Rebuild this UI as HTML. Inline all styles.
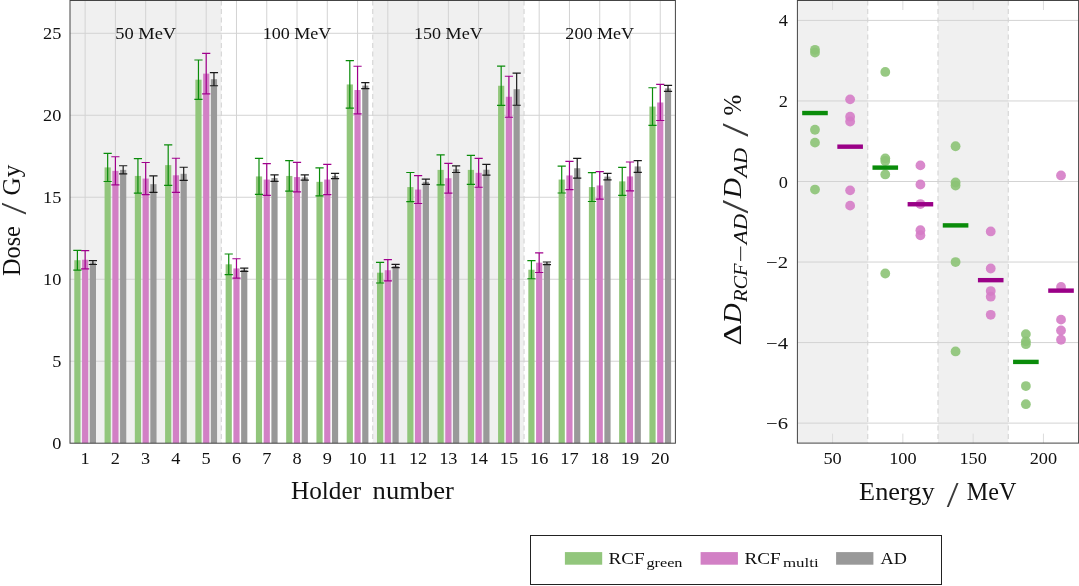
<!DOCTYPE html>
<html lang="en"><head><meta charset="utf-8"><title>Dose comparison</title>
<style>html,body{margin:0;padding:0;background:#fff}body{width:1079px;height:586px;overflow:hidden}svg{display:block}svg text{font-family:"Liberation Serif",serif}</style></head>
<body>
<svg width="1079" height="586" viewBox="0 0 1079 586"  fill="#111">
<rect width="1079" height="586" fill="#fff"/>
<rect x="70.00" y="0.5" width="151.35" height="442.70" fill="#f0f0f0"/>
<rect x="372.70" y="0.5" width="151.35" height="442.70" fill="#f0f0f0"/>
<line x1="221.35" x2="221.35" y1="0.5" y2="443.2" stroke="#d8d8d8" stroke-width="1.2" stroke-dasharray="5 3.5"/>
<line x1="372.70" x2="372.70" y1="0.5" y2="443.2" stroke="#d8d8d8" stroke-width="1.2" stroke-dasharray="5 3.5"/>
<line x1="524.05" x2="524.05" y1="0.5" y2="443.2" stroke="#d8d8d8" stroke-width="1.2" stroke-dasharray="5 3.5"/>
<line x1="85.14" x2="85.14" y1="0.5" y2="443.2" stroke="#d3d3d3" stroke-width="1"/>
<line x1="115.41" x2="115.41" y1="0.5" y2="443.2" stroke="#d3d3d3" stroke-width="1"/>
<line x1="145.68" x2="145.68" y1="0.5" y2="443.2" stroke="#d3d3d3" stroke-width="1"/>
<line x1="175.94" x2="175.94" y1="0.5" y2="443.2" stroke="#d3d3d3" stroke-width="1"/>
<line x1="206.21" x2="206.21" y1="0.5" y2="443.2" stroke="#d3d3d3" stroke-width="1"/>
<line x1="236.48" x2="236.48" y1="0.5" y2="443.2" stroke="#d3d3d3" stroke-width="1"/>
<line x1="266.75" x2="266.75" y1="0.5" y2="443.2" stroke="#d3d3d3" stroke-width="1"/>
<line x1="297.02" x2="297.02" y1="0.5" y2="443.2" stroke="#d3d3d3" stroke-width="1"/>
<line x1="327.29" x2="327.29" y1="0.5" y2="443.2" stroke="#d3d3d3" stroke-width="1"/>
<line x1="357.56" x2="357.56" y1="0.5" y2="443.2" stroke="#d3d3d3" stroke-width="1"/>
<line x1="387.83" x2="387.83" y1="0.5" y2="443.2" stroke="#d3d3d3" stroke-width="1"/>
<line x1="418.10" x2="418.10" y1="0.5" y2="443.2" stroke="#d3d3d3" stroke-width="1"/>
<line x1="448.38" x2="448.38" y1="0.5" y2="443.2" stroke="#d3d3d3" stroke-width="1"/>
<line x1="478.64" x2="478.64" y1="0.5" y2="443.2" stroke="#d3d3d3" stroke-width="1"/>
<line x1="508.91" x2="508.91" y1="0.5" y2="443.2" stroke="#d3d3d3" stroke-width="1"/>
<line x1="539.18" x2="539.18" y1="0.5" y2="443.2" stroke="#d3d3d3" stroke-width="1"/>
<line x1="569.46" x2="569.46" y1="0.5" y2="443.2" stroke="#d3d3d3" stroke-width="1"/>
<line x1="599.73" x2="599.73" y1="0.5" y2="443.2" stroke="#d3d3d3" stroke-width="1"/>
<line x1="630.00" x2="630.00" y1="0.5" y2="443.2" stroke="#d3d3d3" stroke-width="1"/>
<line x1="660.26" x2="660.26" y1="0.5" y2="443.2" stroke="#d3d3d3" stroke-width="1"/>
<line x1="70.0" x2="675.4" y1="361.22" y2="361.22" stroke="#d3d3d3" stroke-width="1"/>
<line x1="70.0" x2="675.4" y1="279.24" y2="279.24" stroke="#d3d3d3" stroke-width="1"/>
<line x1="70.0" x2="675.4" y1="197.26" y2="197.26" stroke="#d3d3d3" stroke-width="1"/>
<line x1="70.0" x2="675.4" y1="115.27" y2="115.27" stroke="#d3d3d3" stroke-width="1"/>
<line x1="70.0" x2="675.4" y1="33.29" y2="33.29" stroke="#d3d3d3" stroke-width="1"/>
<rect x="74.29" y="260.22" width="6.2" height="182.98" fill="#92c67c"/>
<rect x="82.04" y="259.73" width="6.2" height="183.47" fill="#d280c5"/>
<rect x="89.79" y="262.51" width="6.2" height="180.69" fill="#999999"/>
<rect x="104.56" y="167.41" width="6.2" height="275.79" fill="#92c67c"/>
<rect x="112.31" y="170.86" width="6.2" height="272.34" fill="#d280c5"/>
<rect x="120.06" y="169.87" width="6.2" height="273.33" fill="#999999"/>
<rect x="134.83" y="175.94" width="6.2" height="267.26" fill="#92c67c"/>
<rect x="142.58" y="178.56" width="6.2" height="264.64" fill="#d280c5"/>
<rect x="150.33" y="184.14" width="6.2" height="259.06" fill="#999999"/>
<rect x="165.09" y="165.12" width="6.2" height="278.08" fill="#92c67c"/>
<rect x="172.84" y="175.28" width="6.2" height="267.92" fill="#d280c5"/>
<rect x="180.59" y="173.81" width="6.2" height="269.39" fill="#999999"/>
<rect x="195.36" y="79.69" width="6.2" height="363.51" fill="#92c67c"/>
<rect x="203.11" y="73.63" width="6.2" height="369.57" fill="#d280c5"/>
<rect x="210.86" y="79.20" width="6.2" height="364.00" fill="#999999"/>
<rect x="225.63" y="264.32" width="6.2" height="178.88" fill="#92c67c"/>
<rect x="233.38" y="268.42" width="6.2" height="174.78" fill="#d280c5"/>
<rect x="241.13" y="269.73" width="6.2" height="173.47" fill="#999999"/>
<rect x="255.91" y="176.43" width="6.2" height="266.77" fill="#92c67c"/>
<rect x="263.65" y="179.55" width="6.2" height="263.65" fill="#d280c5"/>
<rect x="271.40" y="178.07" width="6.2" height="265.13" fill="#999999"/>
<rect x="286.17" y="175.94" width="6.2" height="267.26" fill="#92c67c"/>
<rect x="293.92" y="177.09" width="6.2" height="266.11" fill="#d280c5"/>
<rect x="301.67" y="177.42" width="6.2" height="265.78" fill="#999999"/>
<rect x="316.44" y="181.84" width="6.2" height="261.36" fill="#92c67c"/>
<rect x="324.19" y="179.55" width="6.2" height="263.65" fill="#d280c5"/>
<rect x="331.94" y="175.94" width="6.2" height="267.26" fill="#999999"/>
<rect x="346.71" y="84.45" width="6.2" height="358.75" fill="#92c67c"/>
<rect x="354.46" y="90.02" width="6.2" height="353.18" fill="#d280c5"/>
<rect x="362.21" y="85.60" width="6.2" height="357.60" fill="#999999"/>
<rect x="376.98" y="272.68" width="6.2" height="170.52" fill="#92c67c"/>
<rect x="384.73" y="270.22" width="6.2" height="172.98" fill="#d280c5"/>
<rect x="392.48" y="265.96" width="6.2" height="177.24" fill="#999999"/>
<rect x="407.25" y="187.09" width="6.2" height="256.11" fill="#92c67c"/>
<rect x="415.00" y="189.55" width="6.2" height="253.65" fill="#d280c5"/>
<rect x="422.75" y="181.84" width="6.2" height="261.36" fill="#999999"/>
<rect x="437.52" y="169.87" width="6.2" height="273.33" fill="#92c67c"/>
<rect x="445.27" y="178.24" width="6.2" height="264.96" fill="#d280c5"/>
<rect x="453.02" y="169.22" width="6.2" height="273.98" fill="#999999"/>
<rect x="467.79" y="169.87" width="6.2" height="273.33" fill="#92c67c"/>
<rect x="475.54" y="172.83" width="6.2" height="270.37" fill="#d280c5"/>
<rect x="483.29" y="169.71" width="6.2" height="273.49" fill="#999999"/>
<rect x="498.06" y="85.76" width="6.2" height="357.44" fill="#92c67c"/>
<rect x="505.81" y="96.75" width="6.2" height="346.45" fill="#d280c5"/>
<rect x="513.56" y="89.20" width="6.2" height="354.00" fill="#999999"/>
<rect x="528.33" y="269.73" width="6.2" height="173.47" fill="#92c67c"/>
<rect x="536.08" y="262.68" width="6.2" height="180.52" fill="#d280c5"/>
<rect x="543.83" y="263.33" width="6.2" height="179.87" fill="#999999"/>
<rect x="558.61" y="179.55" width="6.2" height="263.65" fill="#92c67c"/>
<rect x="566.36" y="175.45" width="6.2" height="267.75" fill="#d280c5"/>
<rect x="574.11" y="168.23" width="6.2" height="274.97" fill="#999999"/>
<rect x="588.88" y="187.09" width="6.2" height="256.11" fill="#92c67c"/>
<rect x="596.62" y="185.45" width="6.2" height="257.75" fill="#d280c5"/>
<rect x="604.38" y="176.60" width="6.2" height="266.60" fill="#999999"/>
<rect x="619.14" y="181.35" width="6.2" height="261.85" fill="#92c67c"/>
<rect x="626.89" y="176.43" width="6.2" height="266.77" fill="#d280c5"/>
<rect x="634.64" y="166.43" width="6.2" height="276.77" fill="#999999"/>
<rect x="649.41" y="106.58" width="6.2" height="336.62" fill="#92c67c"/>
<rect x="657.16" y="102.48" width="6.2" height="340.72" fill="#d280c5"/>
<rect x="664.91" y="88.38" width="6.2" height="354.82" fill="#999999"/>
<path d="M77.39 250.38V270.06M73.29 250.38H81.48M73.29 270.06H81.48" stroke="#0a8c0a" stroke-width="1.2" fill="none"/>
<path d="M85.14 250.54V268.91M81.04 250.54H89.23M81.04 268.91H89.23" stroke="#a0008c" stroke-width="1.2" fill="none"/>
<path d="M92.89 260.55V264.48M88.79 260.55H96.98M88.79 264.48H96.98" stroke="#1a1a1a" stroke-width="1.2" fill="none"/>
<path d="M107.66 153.31V181.52M103.56 153.31H111.75M103.56 181.52H111.75" stroke="#0a8c0a" stroke-width="1.2" fill="none"/>
<path d="M115.41 156.76V184.96M111.31 156.76H119.50M111.31 184.96H119.50" stroke="#a0008c" stroke-width="1.2" fill="none"/>
<path d="M123.16 165.77V173.97M119.06 165.77H127.25M119.06 173.97H127.25" stroke="#1a1a1a" stroke-width="1.2" fill="none"/>
<path d="M137.93 158.72V193.16M133.83 158.72H142.03M133.83 193.16H142.03" stroke="#0a8c0a" stroke-width="1.2" fill="none"/>
<path d="M145.68 162.50V194.63M141.58 162.50H149.78M141.58 194.63H149.78" stroke="#a0008c" stroke-width="1.2" fill="none"/>
<path d="M153.43 175.94V192.34M149.33 175.94H157.53M149.33 192.34H157.53" stroke="#1a1a1a" stroke-width="1.2" fill="none"/>
<path d="M168.19 144.95V185.29M164.09 144.95H172.29M164.09 185.29H172.29" stroke="#0a8c0a" stroke-width="1.2" fill="none"/>
<path d="M175.94 158.23V192.34M171.84 158.23H180.04M171.84 192.34H180.04" stroke="#a0008c" stroke-width="1.2" fill="none"/>
<path d="M183.69 167.25V180.37M179.59 167.25H187.79M179.59 180.37H187.79" stroke="#1a1a1a" stroke-width="1.2" fill="none"/>
<path d="M198.46 60.02V99.37M194.36 60.02H202.56M194.36 99.37H202.56" stroke="#0a8c0a" stroke-width="1.2" fill="none"/>
<path d="M206.21 53.46V93.79M202.11 53.46H210.31M202.11 93.79H210.31" stroke="#a0008c" stroke-width="1.2" fill="none"/>
<path d="M213.96 72.64V85.76M209.86 72.64H218.06M209.86 85.76H218.06" stroke="#1a1a1a" stroke-width="1.2" fill="none"/>
<path d="M228.73 253.99V274.65M224.63 253.99H232.83M224.63 274.65H232.83" stroke="#0a8c0a" stroke-width="1.2" fill="none"/>
<path d="M236.48 258.74V278.09M232.38 258.74H240.58M232.38 278.09H240.58" stroke="#a0008c" stroke-width="1.2" fill="none"/>
<path d="M244.23 268.09V271.37M240.13 268.09H248.33M240.13 271.37H248.33" stroke="#1a1a1a" stroke-width="1.2" fill="none"/>
<path d="M259.00 158.40V194.47M254.91 158.40H263.11M254.91 194.47H263.11" stroke="#0a8c0a" stroke-width="1.2" fill="none"/>
<path d="M266.75 163.64V195.45M262.65 163.64H270.86M262.65 195.45H270.86" stroke="#a0008c" stroke-width="1.2" fill="none"/>
<path d="M274.50 174.79V181.35M270.40 174.79H278.61M270.40 181.35H278.61" stroke="#1a1a1a" stroke-width="1.2" fill="none"/>
<path d="M289.27 160.69V191.19M285.17 160.69H293.38M285.17 191.19H293.38" stroke="#0a8c0a" stroke-width="1.2" fill="none"/>
<path d="M297.02 162.33V191.84M292.92 162.33H301.12M292.92 191.84H301.12" stroke="#a0008c" stroke-width="1.2" fill="none"/>
<path d="M304.77 174.79V180.04M300.67 174.79H308.88M300.67 180.04H308.88" stroke="#1a1a1a" stroke-width="1.2" fill="none"/>
<path d="M319.54 167.91V195.78M315.44 167.91H323.64M315.44 195.78H323.64" stroke="#0a8c0a" stroke-width="1.2" fill="none"/>
<path d="M327.29 164.46V194.63M323.19 164.46H331.39M323.19 194.63H331.39" stroke="#a0008c" stroke-width="1.2" fill="none"/>
<path d="M335.04 173.32V178.56M330.94 173.32H339.14M330.94 178.56H339.14" stroke="#1a1a1a" stroke-width="1.2" fill="none"/>
<path d="M349.81 60.67V108.22M345.71 60.67H353.92M345.71 108.22H353.92" stroke="#0a8c0a" stroke-width="1.2" fill="none"/>
<path d="M357.56 66.25V113.80M353.46 66.25H361.67M353.46 113.80H361.67" stroke="#a0008c" stroke-width="1.2" fill="none"/>
<path d="M365.31 82.65V88.55M361.21 82.65H369.42M361.21 88.55H369.42" stroke="#1a1a1a" stroke-width="1.2" fill="none"/>
<path d="M380.08 262.35V283.01M375.98 262.35H384.19M375.98 283.01H384.19" stroke="#0a8c0a" stroke-width="1.2" fill="none"/>
<path d="M387.83 259.56V280.88M383.73 259.56H391.94M383.73 280.88H391.94" stroke="#a0008c" stroke-width="1.2" fill="none"/>
<path d="M395.58 264.32V267.60M391.48 264.32H399.69M391.48 267.60H399.69" stroke="#1a1a1a" stroke-width="1.2" fill="none"/>
<path d="M410.35 172.50V201.68M406.25 172.50H414.45M406.25 201.68H414.45" stroke="#0a8c0a" stroke-width="1.2" fill="none"/>
<path d="M418.10 175.61V203.49M414.00 175.61H422.20M414.00 203.49H422.20" stroke="#a0008c" stroke-width="1.2" fill="none"/>
<path d="M425.85 179.22V184.47M421.75 179.22H429.95M421.75 184.47H429.95" stroke="#1a1a1a" stroke-width="1.2" fill="none"/>
<path d="M440.62 154.95V184.79M436.52 154.95H444.73M436.52 184.79H444.73" stroke="#0a8c0a" stroke-width="1.2" fill="none"/>
<path d="M448.38 163.32V193.16M444.27 163.32H452.48M444.27 193.16H452.48" stroke="#a0008c" stroke-width="1.2" fill="none"/>
<path d="M456.12 165.94V172.50M452.02 165.94H460.23M452.02 172.50H460.23" stroke="#1a1a1a" stroke-width="1.2" fill="none"/>
<path d="M470.89 155.28V184.47M466.79 155.28H475.00M466.79 184.47H475.00" stroke="#0a8c0a" stroke-width="1.2" fill="none"/>
<path d="M478.64 158.40V187.25M474.54 158.40H482.75M474.54 187.25H482.75" stroke="#a0008c" stroke-width="1.2" fill="none"/>
<path d="M486.39 164.30V175.12M482.29 164.30H490.50M482.29 175.12H490.50" stroke="#1a1a1a" stroke-width="1.2" fill="none"/>
<path d="M501.16 66.09V105.44M497.06 66.09H505.26M497.06 105.44H505.26" stroke="#0a8c0a" stroke-width="1.2" fill="none"/>
<path d="M508.91 76.25V117.24M504.81 76.25H513.01M504.81 117.24H513.01" stroke="#a0008c" stroke-width="1.2" fill="none"/>
<path d="M516.66 73.14V105.27M512.56 73.14H520.76M512.56 105.27H520.76" stroke="#1a1a1a" stroke-width="1.2" fill="none"/>
<path d="M531.43 260.71V278.75M527.33 260.71H535.53M527.33 278.75H535.53" stroke="#0a8c0a" stroke-width="1.2" fill="none"/>
<path d="M539.18 252.84V272.51M535.08 252.84H543.28M535.08 272.51H543.28" stroke="#a0008c" stroke-width="1.2" fill="none"/>
<path d="M546.93 262.02V264.64M542.83 262.02H551.03M542.83 264.64H551.03" stroke="#1a1a1a" stroke-width="1.2" fill="none"/>
<path d="M561.71 166.10V192.99M557.61 166.10H565.81M557.61 192.99H565.81" stroke="#0a8c0a" stroke-width="1.2" fill="none"/>
<path d="M569.46 161.35V189.55M565.36 161.35H573.56M565.36 189.55H573.56" stroke="#a0008c" stroke-width="1.2" fill="none"/>
<path d="M577.21 158.40V178.07M573.11 158.40H581.31M573.11 178.07H581.31" stroke="#1a1a1a" stroke-width="1.2" fill="none"/>
<path d="M591.98 172.66V201.52M587.88 172.66H596.08M587.88 201.52H596.08" stroke="#0a8c0a" stroke-width="1.2" fill="none"/>
<path d="M599.73 171.68V199.22M595.62 171.68H603.83M595.62 199.22H603.83" stroke="#a0008c" stroke-width="1.2" fill="none"/>
<path d="M607.48 173.32V179.88M603.38 173.32H611.58M603.38 179.88H611.58" stroke="#1a1a1a" stroke-width="1.2" fill="none"/>
<path d="M622.25 167.41V195.29M618.14 167.41H626.35M618.14 195.29H626.35" stroke="#0a8c0a" stroke-width="1.2" fill="none"/>
<path d="M630.00 162.00V190.86M625.89 162.00H634.10M625.89 190.86H634.10" stroke="#a0008c" stroke-width="1.2" fill="none"/>
<path d="M637.75 160.53V172.33M633.64 160.53H641.85M633.64 172.33H641.85" stroke="#1a1a1a" stroke-width="1.2" fill="none"/>
<path d="M652.51 87.73V125.44M648.41 87.73H656.62M648.41 125.44H656.62" stroke="#0a8c0a" stroke-width="1.2" fill="none"/>
<path d="M660.26 84.45V120.52M656.16 84.45H664.37M656.16 120.52H664.37" stroke="#a0008c" stroke-width="1.2" fill="none"/>
<path d="M668.01 85.43V91.34M663.91 85.43H672.12M663.91 91.34H672.12" stroke="#1a1a1a" stroke-width="1.2" fill="none"/>
<rect x="70.0" y="0.5" width="605.40" height="442.70" fill="none" stroke="#444444" stroke-width="1"/>
<text x="85.14" y="463.5" font-size="17.4" text-anchor="middle" textLength="9.15" lengthAdjust="spacingAndGlyphs">1</text>
<text x="115.41" y="463.5" font-size="17.4" text-anchor="middle" textLength="9.15" lengthAdjust="spacingAndGlyphs">2</text>
<text x="145.68" y="463.5" font-size="17.4" text-anchor="middle" textLength="9.15" lengthAdjust="spacingAndGlyphs">3</text>
<text x="175.94" y="463.5" font-size="17.4" text-anchor="middle" textLength="9.15" lengthAdjust="spacingAndGlyphs">4</text>
<text x="206.21" y="463.5" font-size="17.4" text-anchor="middle" textLength="9.15" lengthAdjust="spacingAndGlyphs">5</text>
<text x="236.48" y="463.5" font-size="17.4" text-anchor="middle" textLength="9.15" lengthAdjust="spacingAndGlyphs">6</text>
<text x="266.75" y="463.5" font-size="17.4" text-anchor="middle" textLength="9.15" lengthAdjust="spacingAndGlyphs">7</text>
<text x="297.02" y="463.5" font-size="17.4" text-anchor="middle" textLength="9.15" lengthAdjust="spacingAndGlyphs">8</text>
<text x="327.29" y="463.5" font-size="17.4" text-anchor="middle" textLength="9.15" lengthAdjust="spacingAndGlyphs">9</text>
<text x="357.56" y="463.5" font-size="17.4" text-anchor="middle" textLength="18.30" lengthAdjust="spacingAndGlyphs">10</text>
<text x="387.83" y="463.5" font-size="17.4" text-anchor="middle" textLength="18.30" lengthAdjust="spacingAndGlyphs">11</text>
<text x="418.10" y="463.5" font-size="17.4" text-anchor="middle" textLength="18.30" lengthAdjust="spacingAndGlyphs">12</text>
<text x="448.38" y="463.5" font-size="17.4" text-anchor="middle" textLength="18.30" lengthAdjust="spacingAndGlyphs">13</text>
<text x="478.64" y="463.5" font-size="17.4" text-anchor="middle" textLength="18.30" lengthAdjust="spacingAndGlyphs">14</text>
<text x="508.91" y="463.5" font-size="17.4" text-anchor="middle" textLength="18.30" lengthAdjust="spacingAndGlyphs">15</text>
<text x="539.18" y="463.5" font-size="17.4" text-anchor="middle" textLength="18.30" lengthAdjust="spacingAndGlyphs">16</text>
<text x="569.46" y="463.5" font-size="17.4" text-anchor="middle" textLength="18.30" lengthAdjust="spacingAndGlyphs">17</text>
<text x="599.73" y="463.5" font-size="17.4" text-anchor="middle" textLength="18.30" lengthAdjust="spacingAndGlyphs">18</text>
<text x="630.00" y="463.5" font-size="17.4" text-anchor="middle" textLength="18.30" lengthAdjust="spacingAndGlyphs">19</text>
<text x="660.26" y="463.5" font-size="17.4" text-anchor="middle" textLength="18.30" lengthAdjust="spacingAndGlyphs">20</text>
<text x="61.3" y="449.20" font-size="17.4" text-anchor="end" textLength="9.15" lengthAdjust="spacingAndGlyphs">0</text>
<text x="61.3" y="367.22" font-size="17.4" text-anchor="end" textLength="9.15" lengthAdjust="spacingAndGlyphs">5</text>
<text x="61.3" y="285.24" font-size="17.4" text-anchor="end" textLength="18.30" lengthAdjust="spacingAndGlyphs">10</text>
<text x="61.3" y="203.26" font-size="17.4" text-anchor="end" textLength="18.30" lengthAdjust="spacingAndGlyphs">15</text>
<text x="61.3" y="121.27" font-size="17.4" text-anchor="end" textLength="18.30" lengthAdjust="spacingAndGlyphs">20</text>
<text x="61.3" y="39.29" font-size="17.4" text-anchor="end" textLength="18.30" lengthAdjust="spacingAndGlyphs">25</text>
<text x="115.18" y="39.2" font-size="17.5" textLength="61" lengthAdjust="spacingAndGlyphs">50 MeV</text>
<text x="262.67" y="39.2" font-size="17.5" textLength="68.7" lengthAdjust="spacingAndGlyphs">100 MeV</text>
<text x="414.02" y="39.2" font-size="17.5" textLength="68.7" lengthAdjust="spacingAndGlyphs">150 MeV</text>
<text x="565.38" y="39.2" font-size="17.5" textLength="68.7" lengthAdjust="spacingAndGlyphs">200 MeV</text>
<g font-size="24.7"><text x="291" y="498.6" textLength="70.1" lengthAdjust="spacingAndGlyphs">Holder</text><text x="372.6" y="498.6" textLength="81.3" lengthAdjust="spacingAndGlyphs">number</text></g>
<g transform="translate(19.6 276.1) rotate(-90)" font-size="24.3"><text x="0" y="0" textLength="50" lengthAdjust="spacingAndGlyphs">Dose</text><text fill="#3a3a3a" x="61.6" y="6.5" font-size="35.5" textLength="11.8" lengthAdjust="spacingAndGlyphs">/</text><text x="80.7" y="0" textLength="30.6" lengthAdjust="spacingAndGlyphs">Gy</text></g>
<rect x="797.40" y="0.5" width="70.30" height="442.60" fill="#f0f0f0"/>
<rect x="938.00" y="0.5" width="70.30" height="442.60" fill="#f0f0f0"/>
<line x1="867.70" x2="867.70" y1="0.5" y2="443.1" stroke="#d8d8d8" stroke-width="1.2" stroke-dasharray="5 3.5"/>
<line x1="938.00" x2="938.00" y1="0.5" y2="443.1" stroke="#d8d8d8" stroke-width="1.2" stroke-dasharray="5 3.5"/>
<line x1="1008.30" x2="1008.30" y1="0.5" y2="443.1" stroke="#d8d8d8" stroke-width="1.2" stroke-dasharray="5 3.5"/>
<line x1="797.4" x2="1078.6" y1="423.12" y2="423.12" stroke="#d3d3d3" stroke-width="1"/>
<line x1="797.4" x2="1078.6" y1="342.58" y2="342.58" stroke="#d3d3d3" stroke-width="1"/>
<line x1="797.4" x2="1078.6" y1="262.04" y2="262.04" stroke="#d3d3d3" stroke-width="1"/>
<line x1="797.4" x2="1078.6" y1="181.50" y2="181.50" stroke="#d3d3d3" stroke-width="1"/>
<line x1="797.4" x2="1078.6" y1="100.96" y2="100.96" stroke="#d3d3d3" stroke-width="1"/>
<line x1="797.4" x2="1078.6" y1="20.42" y2="20.42" stroke="#d3d3d3" stroke-width="1"/>
<path d="M832.55 443.1v-9.5M832.55 0.5v9.5" stroke="#dcdcdc" stroke-width="1"/>
<path d="M902.85 443.1v-9.5M902.85 0.5v9.5" stroke="#dcdcdc" stroke-width="1"/>
<path d="M973.15 443.1v-9.5M973.15 0.5v9.5" stroke="#dcdcdc" stroke-width="1"/>
<path d="M1043.45 443.1v-9.5M1043.45 0.5v9.5" stroke="#dcdcdc" stroke-width="1"/>
<circle cx="814.98" cy="49.82" r="4.9" fill="#8cc375" fill-opacity="0.9"/>
<circle cx="814.98" cy="52.64" r="4.9" fill="#8cc375" fill-opacity="0.9"/>
<circle cx="814.98" cy="129.75" r="4.9" fill="#8cc375" fill-opacity="0.9"/>
<circle cx="814.98" cy="142.64" r="4.9" fill="#8cc375" fill-opacity="0.9"/>
<circle cx="814.98" cy="189.55" r="4.9" fill="#8cc375" fill-opacity="0.9"/>
<circle cx="885.27" cy="71.97" r="4.9" fill="#8cc375" fill-opacity="0.9"/>
<circle cx="885.27" cy="158.34" r="4.9" fill="#8cc375" fill-opacity="0.9"/>
<circle cx="885.27" cy="160.96" r="4.9" fill="#8cc375" fill-opacity="0.9"/>
<circle cx="885.27" cy="174.45" r="4.9" fill="#8cc375" fill-opacity="0.9"/>
<circle cx="885.27" cy="273.52" r="4.9" fill="#8cc375" fill-opacity="0.9"/>
<circle cx="955.57" cy="146.26" r="4.9" fill="#8cc375" fill-opacity="0.9"/>
<circle cx="955.57" cy="182.51" r="4.9" fill="#8cc375" fill-opacity="0.9"/>
<circle cx="955.57" cy="185.53" r="4.9" fill="#8cc375" fill-opacity="0.9"/>
<circle cx="955.57" cy="262.04" r="4.9" fill="#8cc375" fill-opacity="0.9"/>
<circle cx="955.57" cy="351.44" r="4.9" fill="#8cc375" fill-opacity="0.9"/>
<circle cx="1025.88" cy="334.12" r="4.9" fill="#8cc375" fill-opacity="0.9"/>
<circle cx="1025.88" cy="341.37" r="4.9" fill="#8cc375" fill-opacity="0.9"/>
<circle cx="1025.88" cy="344.19" r="4.9" fill="#8cc375" fill-opacity="0.9"/>
<circle cx="1025.88" cy="386.07" r="4.9" fill="#8cc375" fill-opacity="0.9"/>
<circle cx="1025.88" cy="404.19" r="4.9" fill="#8cc375" fill-opacity="0.9"/>
<circle cx="850.12" cy="99.35" r="4.9" fill="#d57cc6" fill-opacity="0.9"/>
<circle cx="850.12" cy="116.67" r="4.9" fill="#d57cc6" fill-opacity="0.9"/>
<circle cx="850.12" cy="121.50" r="4.9" fill="#d57cc6" fill-opacity="0.9"/>
<circle cx="850.12" cy="190.36" r="4.9" fill="#d57cc6" fill-opacity="0.9"/>
<circle cx="850.12" cy="205.66" r="4.9" fill="#d57cc6" fill-opacity="0.9"/>
<circle cx="920.42" cy="165.39" r="4.9" fill="#d57cc6" fill-opacity="0.9"/>
<circle cx="920.42" cy="184.52" r="4.9" fill="#d57cc6" fill-opacity="0.9"/>
<circle cx="920.42" cy="204.05" r="4.9" fill="#d57cc6" fill-opacity="0.9"/>
<circle cx="920.42" cy="230.23" r="4.9" fill="#d57cc6" fill-opacity="0.9"/>
<circle cx="920.42" cy="235.26" r="4.9" fill="#d57cc6" fill-opacity="0.9"/>
<circle cx="990.72" cy="231.43" r="4.9" fill="#d57cc6" fill-opacity="0.9"/>
<circle cx="990.72" cy="268.48" r="4.9" fill="#d57cc6" fill-opacity="0.9"/>
<circle cx="990.72" cy="291.03" r="4.9" fill="#d57cc6" fill-opacity="0.9"/>
<circle cx="990.72" cy="296.67" r="4.9" fill="#d57cc6" fill-opacity="0.9"/>
<circle cx="990.72" cy="314.79" r="4.9" fill="#d57cc6" fill-opacity="0.9"/>
<circle cx="1061.02" cy="175.46" r="4.9" fill="#d57cc6" fill-opacity="0.9"/>
<circle cx="1061.02" cy="287.01" r="4.9" fill="#d57cc6" fill-opacity="0.9"/>
<circle cx="1061.02" cy="319.63" r="4.9" fill="#d57cc6" fill-opacity="0.9"/>
<circle cx="1061.02" cy="330.50" r="4.9" fill="#d57cc6" fill-opacity="0.9"/>
<circle cx="1061.02" cy="339.76" r="4.9" fill="#d57cc6" fill-opacity="0.9"/>
<rect x="802.18" y="110.84" width="25.6" height="4.4" fill="#0a8c0a"/>
<rect x="872.48" y="165.41" width="25.6" height="4.4" fill="#0a8c0a"/>
<rect x="942.77" y="223.19" width="25.6" height="4.4" fill="#0a8c0a"/>
<rect x="1013.08" y="359.71" width="25.6" height="4.4" fill="#0a8c0a"/>
<rect x="837.33" y="144.47" width="25.6" height="4.4" fill="#9a0087"/>
<rect x="907.62" y="202.05" width="25.6" height="4.4" fill="#9a0087"/>
<rect x="977.92" y="277.96" width="25.6" height="4.4" fill="#9a0087"/>
<rect x="1048.22" y="288.43" width="25.6" height="4.4" fill="#9a0087"/>
<rect x="797.4" y="0.5" width="281.20" height="442.60" fill="none" stroke="#444444" stroke-width="1"/>
<text x="832.55" y="463.5" font-size="17.4" text-anchor="middle" textLength="18.30" lengthAdjust="spacingAndGlyphs">50</text>
<text x="902.85" y="463.5" font-size="17.4" text-anchor="middle" textLength="27.45" lengthAdjust="spacingAndGlyphs">100</text>
<text x="973.15" y="463.5" font-size="17.4" text-anchor="middle" textLength="27.45" lengthAdjust="spacingAndGlyphs">150</text>
<text x="1043.45" y="463.5" font-size="17.4" text-anchor="middle" textLength="27.45" lengthAdjust="spacingAndGlyphs">200</text>
<text x="788" y="429.12" font-size="17.4" text-anchor="end" textLength="22" lengthAdjust="spacingAndGlyphs">−6</text>
<text x="788" y="348.58" font-size="17.4" text-anchor="end" textLength="22" lengthAdjust="spacingAndGlyphs">−4</text>
<text x="788" y="268.04" font-size="17.4" text-anchor="end" textLength="22" lengthAdjust="spacingAndGlyphs">−2</text>
<text x="788" y="187.50" font-size="17.4" text-anchor="end" textLength="9.15" lengthAdjust="spacingAndGlyphs">0</text>
<text x="788" y="106.96" font-size="17.4" text-anchor="end" textLength="9.15" lengthAdjust="spacingAndGlyphs">2</text>
<text x="788" y="26.42" font-size="17.4" text-anchor="end" textLength="9.15" lengthAdjust="spacingAndGlyphs">4</text>
<g font-size="24.7"><text x="859.1" y="500.2" textLength="75.5" lengthAdjust="spacingAndGlyphs">Energy</text><text fill="#3a3a3a" x="946.8" y="506.8" font-size="35.8" textLength="11.8" lengthAdjust="spacingAndGlyphs">/</text><text x="966.8" y="500.2" textLength="49.5" lengthAdjust="spacingAndGlyphs">MeV</text></g>
<g transform="translate(740.7 345) rotate(-90)" font-size="25.4"><text x="-0.4" y="0" textLength="21.2" lengthAdjust="spacingAndGlyphs">Δ</text><text x="21.6" y="0" font-style="italic" textLength="20.2" lengthAdjust="spacingAndGlyphs">D</text><text x="43" y="6" font-style="italic" font-size="18.4" textLength="38.6" lengthAdjust="spacingAndGlyphs">RCF</text><text x="82.6" y="6" font-size="18.4" textLength="17.4" lengthAdjust="spacingAndGlyphs">−</text><text x="100.8" y="6" font-style="italic" font-size="18.4" textLength="30.2" lengthAdjust="spacingAndGlyphs">AD</text><text fill="#3a3a3a" x="131.6" y="7" font-size="37.5" textLength="13.4" lengthAdjust="spacingAndGlyphs">/</text><text x="146.8" y="0" font-style="italic" textLength="20.2" lengthAdjust="spacingAndGlyphs">D</text><text x="167.4" y="6" font-style="italic" font-size="18.4" textLength="29.8" lengthAdjust="spacingAndGlyphs">AD</text><text fill="#3a3a3a" x="208.2" y="7" font-size="37.5" textLength="13.6" lengthAdjust="spacingAndGlyphs">/</text><text x="229.6" y="0" textLength="20.8" lengthAdjust="spacingAndGlyphs">%</text></g>
<rect x="530.5" y="535.5" width="411" height="49" fill="#fff" stroke="#222" stroke-width="1"/>
<rect x="564.9" y="552.1" width="37.3" height="12.6" fill="#92c67c"/>
<rect x="700.6" y="552.1" width="37.3" height="12.6" fill="#d280c5"/>
<rect x="836.1" y="552.1" width="37.3" height="12.6" fill="#999999"/>
<text x="608.5" y="564.3" font-size="17.3" textLength="36.3" lengthAdjust="spacingAndGlyphs">RCF</text>
<text x="646.4" y="566.6" font-size="13.3" textLength="36.1" lengthAdjust="spacingAndGlyphs">green</text>
<text x="744.5" y="564.3" font-size="17.3" textLength="36.3" lengthAdjust="spacingAndGlyphs">RCF</text>
<text x="782.9" y="566.6" font-size="13.3" textLength="35.7" lengthAdjust="spacingAndGlyphs">multi</text>
<text x="880.6" y="564.3" font-size="17.3" textLength="26.3" lengthAdjust="spacingAndGlyphs">AD</text>
</svg>
</body></html>
